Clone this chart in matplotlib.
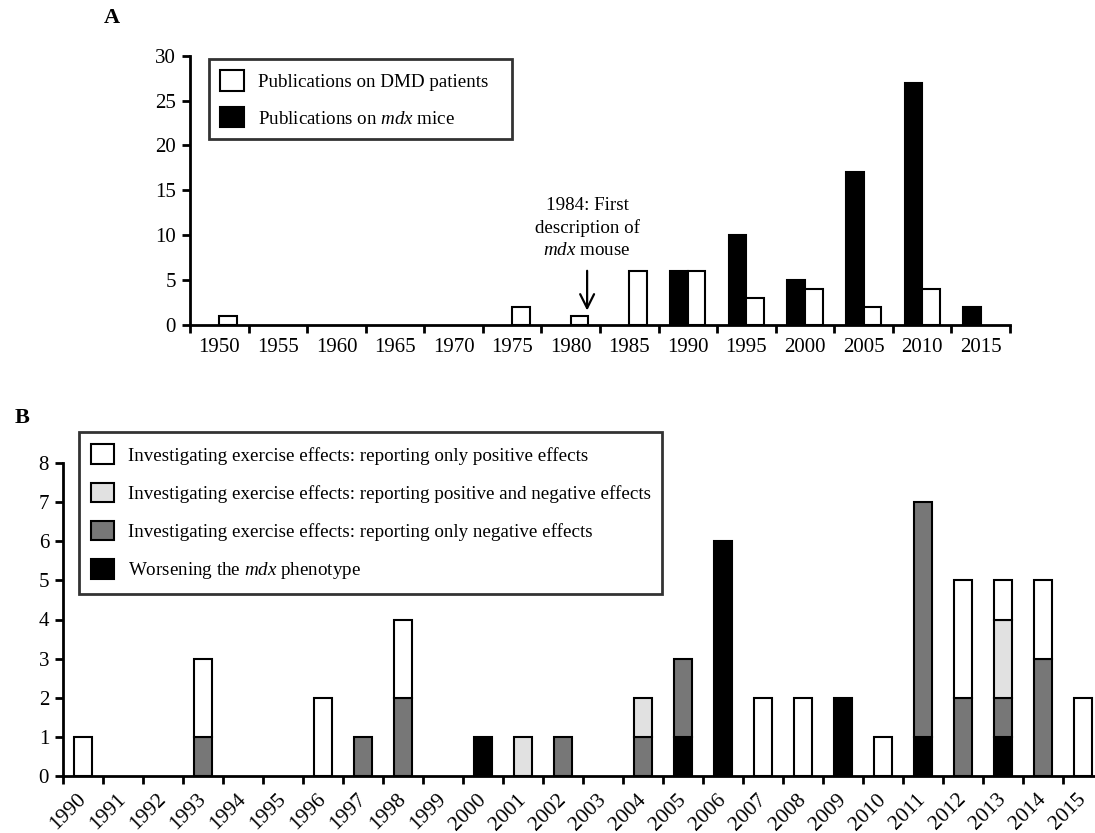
import numpy as np
import matplotlib
matplotlib.use("Agg")
from matplotlib import pyplot as plt

plt.rcParams["font.family"] = ["Liberation Serif", "DejaVu Serif"]
plt.rcParams["mathtext.fontset"] = "custom"
plt.rcParams["mathtext.rm"] = "Liberation Serif"
plt.rcParams["mathtext.it"] = "Liberation Serif:italic"

# panel A data
years_a = [1950, 1955, 1960, 1965, 1970, 1975, 1980, 1985, 1990, 1995, 2000, 2005, 2010, 2015]
dmd_pubs = [1, 0, 0, 0, 0, 2, 1, 6, 6, 3, 4, 2, 4, 0]
mdx_pubs = [0, 0, 0, 0, 0, 0, 0, 0, 6, 10, 5, 17, 27, 2]

# panel B data
years_b = list(range(1990, 2016))
only_positive = [1, 0, 0, 2, 0, 0, 2, 0, 2, 0, 0, 0, 0, 0, 0, 0, 0, 2, 2, 0, 1, 0, 3, 1, 2, 2]
pos_and_neg = [0, 0, 0, 0, 0, 0, 0, 0, 0, 0, 0, 1, 0, 0, 1, 0, 0, 0, 0, 0, 0, 0, 0, 2, 0, 0]
only_negative = [0, 0, 0, 1, 0, 0, 0, 1, 2, 0, 0, 0, 1, 0, 1, 2, 0, 0, 0, 0, 0, 6, 2, 1, 3, 0]
worsening = [0, 0, 0, 0, 0, 0, 0, 0, 0, 0, 1, 0, 0, 0, 0, 1, 6, 0, 0, 2, 0, 1, 0, 1, 0, 0]

W, H = 1095, 833
fig = plt.figure(figsize=(W / 100, H / 100), dpi=100)

TICK_FS = 15
LEG_FS = 13.7
LW = 2.0
EDGE = 1.5


def nonzero(vals):
    # empty categories get no bar at all
    vals = np.array(vals, dtype=float)
    return np.where(vals > 0, vals, np.nan)


def style_axes(ax):
    for s in ["top", "right"]:
        ax.spines[s].set_visible(False)
    for s in ["left", "bottom"]:
        ax.spines[s].set_linewidth(LW)
    ax.tick_params(axis="y", which="major", length=6, width=LW, direction="out",
                   labelsize=TICK_FS, pad=4)
    ax.tick_params(axis="x", which="major", length=6, width=LW, direction="out")
    ax.tick_params(axis="x", which="minor", length=0, labelsize=TICK_FS)


# ---------------- Panel A ----------------
axA = fig.add_axes([190 / W, 1 - 325 / H, 820 / W, (325 - 55.7) / H])
x = np.arange(len(years_a))
axA.bar(x - 0.15, nonzero(mdx_pubs), width=0.3, color="black", edgecolor="black",
        linewidth=EDGE, label="Publications on $\\mathit{mdx}$ mice", zorder=3)
axA.bar(x + 0.15, nonzero(dmd_pubs), width=0.3, color="white", edgecolor="black",
        linewidth=EDGE, label="Publications on DMD patients", zorder=3)
axA.set_xlim(-0.5, len(years_a) - 0.5)
axA.set_ylim(0, 30)
axA.set_yticks(range(0, 31, 5))
axA.set_xticks(np.arange(-0.5, len(years_a), 1))
axA.set_xticklabels([])
axA.set_xticks(x, labels=[str(y) for y in years_a], minor=True)
style_axes(axA)
axA.tick_params(axis="x", which="minor", pad=9)

handles, labels = axA.get_legend_handles_labels()
legA = axA.legend(handles[::-1], labels[::-1], loc="upper left",
                  bbox_to_anchor=(209 / W, 1 - 139 / H, 303 / W, 80 / H),
                  bbox_transform=fig.transFigure, mode="expand",
                  fontsize=LEG_FS, frameon=True, fancybox=False,
                  borderpad=0.6, handlelength=1.26, handleheight=1.26,
                  handletextpad=0.7, labelspacing=0.85, borderaxespad=0)
legA.get_frame().set_edgecolor("black")
legA.get_frame().set_linewidth(LW)

axA.annotate("", xy=(6.28, 1.3), xytext=(6.28, 6.35),
             arrowprops=dict(arrowstyle="->", lw=1.6, color="black",
                             mutation_scale=25))
axA.text(6.28, 10.8, "1984: First\ndescription of\n$\\mathit{mdx}$ mouse",
         ha="center", va="center", multialignment="center",
         fontsize=LEG_FS, linespacing=1.35)

fig.text(112 / W, 1 - 18 / H, "A", fontsize=16, fontweight="bold",
         ha="center", va="center")

# ---------------- Panel B ----------------
n = len(years_b)
axB = fig.add_axes([63 / W, 1 - 776 / H, (n * 40) / W, (776 - 463) / H])
xb = np.arange(n)
bw = 0.44
bottom = np.zeros(n)
series = [
    (worsening, "black", "Worsening the $\\mathit{mdx}$ phenotype"),
    (only_negative, "#777777", "Investigating exercise effects: reporting only negative effects"),
    (pos_and_neg, "#e1e1e1", "Investigating exercise effects: reporting positive and negative effects"),
    (only_positive, "white", "Investigating exercise effects: reporting only positive effects"),
]
for vals, col, lab in series:
    axB.bar(xb, nonzero(vals), width=bw, bottom=bottom, color=col, edgecolor="black",
            linewidth=EDGE, label=lab, zorder=3)
    bottom += np.array(vals, dtype=float)

axB.set_xlim(-0.5, n - 0.5)
axB.set_ylim(0, 8)
axB.set_yticks(range(0, 9))
axB.set_xticks(np.arange(-0.5, n, 1))
axB.set_xticklabels([])
axB.set_xticks(xb, labels=[str(y) for y in years_b], minor=True)
style_axes(axB)
axB.tick_params(axis="x", which="minor", pad=15, labelsize=15.5)
for lbl in axB.get_xticklabels(minor=True):
    lbl.set_rotation(45)
    lbl.set_ha("right")
    lbl.set_va("center")
    lbl.set_rotation_mode("anchor")

handles, labels = axB.get_legend_handles_labels()
legB = axB.legend(handles[::-1], labels[::-1], loc="upper left",
                  bbox_to_anchor=(79 / W, 1 - 595 / H, 583 / W, 163 / H),
                  bbox_transform=fig.transFigure, mode="expand",
                  fontsize=LEG_FS, frameon=True, fancybox=False,
                  borderpad=0.65, handlelength=1.2, handleheight=1.2,
                  handletextpad=0.7, labelspacing=0.95, borderaxespad=0)
legB.get_frame().set_edgecolor("black")
legB.get_frame().set_linewidth(LW)

fig.text(22 / W, 1 - 418 / H, "B", fontsize=16, fontweight="bold",
         ha="center", va="center")

fig.savefig("out.png", dpi=100)
